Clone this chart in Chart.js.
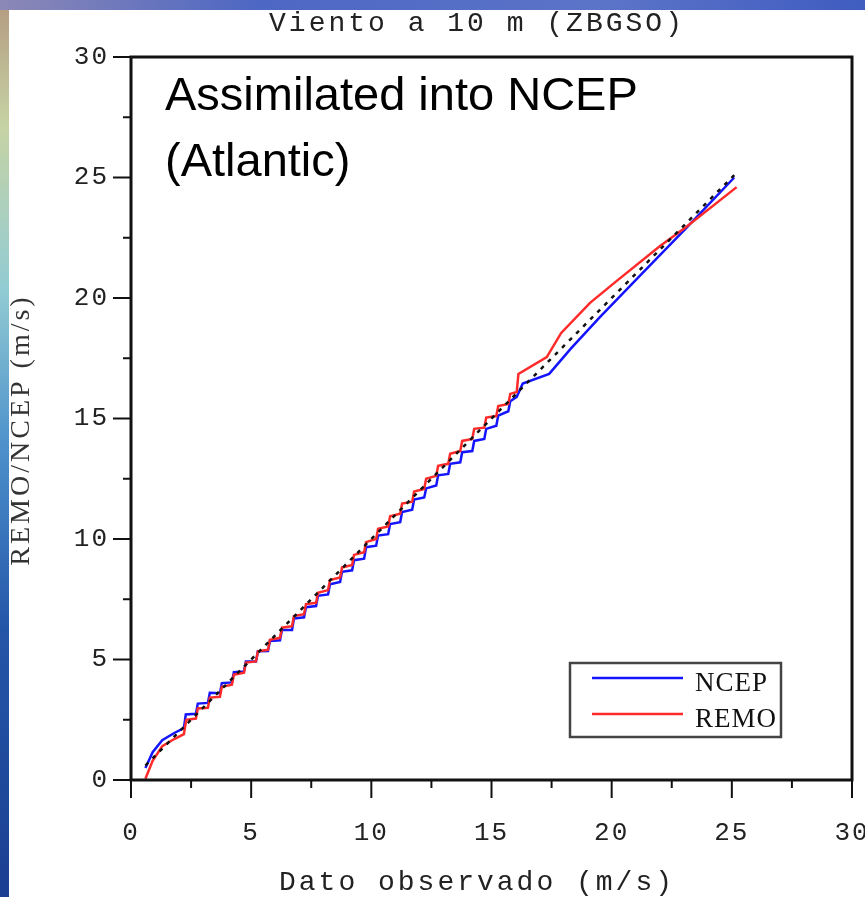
<!DOCTYPE html>
<html lang="es">
<head>
  <meta charset="UTF-8">
  <title>Viento a 10 m (ZBGSO)</title>
  <script src="https://cdn.jsdelivr.net/npm/chart.js"></script>
  <style>
    html, body {
      margin: 0;
      padding: 0;
    }

    body {
      width: 865px;
      height: 897px;
      overflow: hidden;
      position: relative;
      background: linear-gradient(to bottom, #b49a80 0%, #c6d3a4 14%, #93ccd3 32%, #4c90cb 50%, #2456a8 70%, #1b3f92 100%);
    }

    .topband {
      position: absolute;
      left: 0;
      top: 0;
      width: 865px;
      height: 10px;
      background: linear-gradient(to right, #8c88b6, #4d67c4 30%, #5c74c8 70%, #3f5cc0);
    }

    .panel {
      position: absolute;
      left: 9px;
      top: 10px;
      width: 856px;
      height: 887px;
      background: #fff;
    }
  </style>
</head>
<body>
  <div class="topband"></div>
  <div class="panel">
    <canvas id="windChart" width="856" height="887"></canvas>
  </div>

  <script>
    const obsNcep = [0.6, 0.9, 1.3, 1.8, 2.2, 2.28, 2.7, 2.78, 3.2, 3.28, 3.7, 3.78, 4.2, 4.28, 4.7, 4.78,
      5.2, 5.28, 5.7, 5.78, 6.2, 6.28, 6.7, 6.78, 7.2, 7.28, 7.7, 7.78, 8.2, 8.28, 8.7, 8.78,
      9.2, 9.28, 9.7, 9.78, 10.2, 10.28, 10.7, 10.78, 11.2, 11.28, 11.7, 11.78, 12.2, 12.28,
      12.7, 12.78, 13.2, 13.28, 13.7, 13.78, 14.2, 14.28, 14.7, 14.78, 15.2, 15.28, 15.7, 15.78,
      16.05, 16.3, 17.4, 18.3, 19.5, 21.2, 23.1, 25.1];
    const ncep = [0.5, 1.15, 1.65, 1.95, 2.15, 2.72, 2.75, 3.17, 3.2, 3.62, 3.6, 4.02, 4.05, 4.47, 4.5, 4.92,
      4.92, 5.34, 5.35, 5.77, 5.8, 6.22, 6.22, 6.7, 6.75, 7.17, 7.22, 7.64, 7.7, 8.12, 8.22, 8.64,
      8.7, 9.12, 9.18, 9.66, 9.72, 10.14, 10.2, 10.62, 10.7, 11.12, 11.22, 11.64, 11.72, 12.1,
      12.22, 12.64, 12.7, 13.12, 13.18, 13.6, 13.65, 14.07, 14.15, 14.57, 14.7, 15.12, 15.3, 15.72,
      15.9, 16.45, 16.85, 17.9, 19.2, 20.95, 22.9, 25.0];

    const obsRemo = [0.6, 0.9, 1.3, 1.8, 2.2, 2.3, 2.7, 2.78, 3.2, 3.28, 3.7, 3.78, 4.2, 4.28, 4.7, 4.78,
      5.2, 5.28, 5.7, 5.78, 6.2, 6.28, 6.7, 6.78, 7.2, 7.28, 7.7, 7.78, 8.2, 8.28, 8.7, 8.78,
      9.2, 9.28, 9.7, 9.78, 10.2, 10.28, 10.7, 10.78, 11.2, 11.28, 11.7, 11.78, 12.2, 12.28,
      12.7, 12.78, 13.2, 13.28, 13.7, 13.78, 14.2, 14.28, 14.7, 14.78, 15.2, 15.28, 15.7, 15.78,
      16.05, 16.12, 17.3, 17.9, 19.1, 20.2, 22.0, 23.1, 25.2];
    const remo = [0.05, 0.8, 1.4, 1.7, 1.9, 2.5, 2.55, 2.97, 3.0, 3.42, 3.45, 3.87, 3.95, 4.37, 4.45, 4.87,
      4.92, 5.34, 5.4, 5.82, 5.9, 6.32, 6.38, 6.8, 6.88, 7.3, 7.35, 7.77, 7.88, 8.3, 8.4, 8.82,
      8.92, 9.34, 9.45, 9.87, 10.0, 10.42, 10.52, 10.94, 11.05, 11.47, 11.55, 11.97, 12.08, 12.5,
      12.62, 13.04, 13.12, 13.54, 13.65, 14.07, 14.15, 14.57, 14.62, 15.04, 15.1, 15.52, 15.6, 16.02,
      16.1, 16.85, 17.55, 18.55, 19.8, 20.7, 22.15, 22.95, 24.6];

    // 1:1 reference line
    const diagObs = [0.6, 25.1];
    const diagVal = [0.6, 25.1];

    const majorTicks = [0, 5, 10, 15, 20, 25, 30];
    const minorTicks = [2.5, 7.5, 12.5, 17.5, 22.5, 27.5];
    const legendOrder = ['NCEP', 'REMO'];

    const pts = (xs, ys) => xs.map((x, i) => ({ x: x, y: ys[i] }));

    const decor = {
      id: 'decor',
      beforeDraw(chart) {
        chart.ctx.letterSpacing = '2px';
      },
      afterDraw(chart) {
        const ctx = chart.ctx;
        const a = chart.chartArea;
        const xs = chart.scales.x;
        const ys = chart.scales.y;
        ctx.save();
        ctx.letterSpacing = '0px';

        // tick marks
        ctx.strokeStyle = '#111';
        ctx.lineWidth = 2;
        const seg = (x1, y1, x2, y2) => {
          ctx.beginPath();
          ctx.moveTo(x1, y1);
          ctx.lineTo(x2, y2);
          ctx.stroke();
        };
        majorTicks.forEach(v => {
          const px = xs.getPixelForValue(v);
          seg(px, a.bottom, px, a.bottom + 18);
          const py = ys.getPixelForValue(v);
          seg(a.left - 18, py, a.left, py);
        });
        minorTicks.forEach(v => {
          const px = xs.getPixelForValue(v);
          seg(px, a.bottom, px, a.bottom + 8);
          const py = ys.getPixelForValue(v);
          seg(a.left - 8, py, a.left, py);
        });

        // frame
        ctx.lineWidth = 3;
        ctx.strokeRect(a.left, a.top, a.right - a.left, a.bottom - a.top);

        // titles
        ctx.fillStyle = '#222';
        ctx.textAlign = 'center';
        ctx.textBaseline = 'middle';
        ctx.font = '28px "Liberation Mono"';
        ctx.letterSpacing = '3px';
        ctx.fillText('Viento a 10 m (ZBGSO)', 468, 14);
        ctx.fillText('Dato observado (m/s)', 468, 873);

        ctx.save();
        ctx.translate(13, 420);
        ctx.rotate(-Math.PI / 2);
        ctx.font = '28px "Liberation Serif"';
        ctx.letterSpacing = '3px';
        ctx.fillStyle = '#333';
        ctx.fillText('REMO/NCEP (m/s)', 0, 0);
        ctx.restore();

        // annotation
        ctx.letterSpacing = '0px';
        ctx.fillStyle = '#000';
        ctx.textAlign = 'left';
        ctx.textBaseline = 'alphabetic';
        ctx.font = '47px "Liberation Sans"';
        ctx.fillText('Assimilated into NCEP', 156, 100);
        ctx.fillText('(Atlantic)', 156, 166);

        // legend
        ctx.strokeStyle = '#444';
        ctx.lineWidth = 2.5;
        ctx.strokeRect(561, 653, 211, 74);
        ctx.font = '27px "Liberation Serif"';
        ctx.letterSpacing = '1px';
        ctx.textBaseline = 'middle';
        ctx.fillStyle = '#111';
        legendOrder.forEach((name, i) => {
          const ds = chart.data.datasets.find(d => d.label === name);
          const ly = 668 + i * 36;
          ctx.strokeStyle = ds.borderColor;
          ctx.lineWidth = 2.5;
          seg(583, ly, 674, ly);
          ctx.fillText(name, 686, ly + 6);
        });
        ctx.restore();
      }
    };

    const ctx = document.getElementById('windChart').getContext('2d');
    new Chart(ctx, {
      type: 'scatter',
      data: {
        datasets: [
          {
            label: '1:1',
            data: pts(diagObs, diagVal),
            showLine: true,
            borderColor: '#111',
            borderWidth: 2.5,
            borderDash: [4, 6],
            pointRadius: 0,
          },
          {
            label: 'REMO',
            data: pts(obsRemo, remo),
            showLine: true,
            borderColor: '#ff2b2b',
            borderWidth: 2.5,
            pointRadius: 0,
          },
          {
            label: 'NCEP',
            data: pts(obsNcep, ncep),
            showLine: true,
            borderColor: '#1414ff',
            borderWidth: 2.5,
            pointRadius: 0,
          },
        ],
      },
      options: {
        responsive: false,
        animation: false,
        devicePixelRatio: 1,
        layout: { padding: { top: 47, right: 13, left: 0, bottom: 0 } },
        plugins: {
          legend: { display: false },
          tooltip: { enabled: false },
        },
        scales: {
          x: {
            type: 'linear',
            min: 0,
            max: 30,
            grid: { display: false },
            border: { display: false },
            ticks: {
              stepSize: 5,
              padding: 30,
              maxRotation: 0,
              color: '#222',
              font: { family: 'Liberation Mono', size: 26 },
            },
            afterFit(s) {
              s.height = 117;
              s.paddingLeft = 0;
              s.paddingRight = 0;
            },
          },
          y: {
            type: 'linear',
            min: 0,
            max: 30,
            grid: { display: false },
            border: { display: false },
            ticks: {
              stepSize: 5,
              padding: 14,
              color: '#222',
              font: { family: 'Liberation Mono', size: 26 },
            },
            afterFit(s) {
              s.width = 122;
              s.paddingTop = 0;
              s.paddingBottom = 0;
            },
          },
        },
      },
      plugins: [decor],
    });
  </script>
</body>
</html>
